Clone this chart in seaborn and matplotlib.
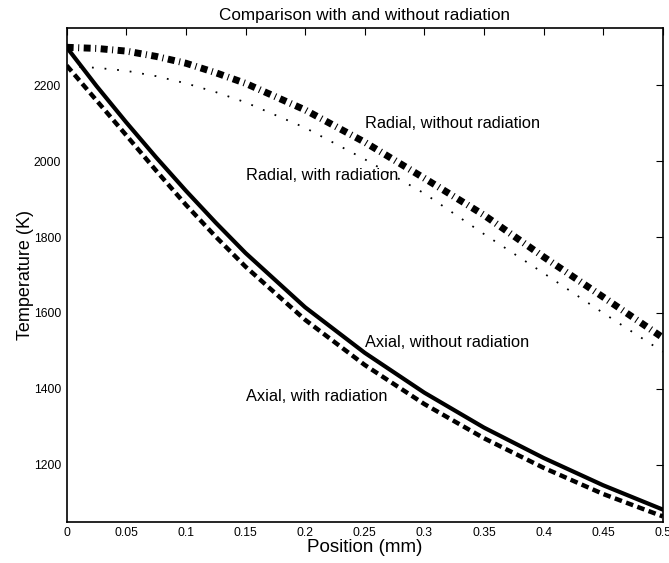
import matplotlib
matplotlib.use('Agg')
import matplotlib.pyplot as plt
import seaborn as sns
import numpy as np

position = [0.0, 0.025, 0.05, 0.075, 0.1, 0.125, 0.15, 0.2, 0.25, 0.3, 0.35, 0.4, 0.45, 0.5]

# temperatures (K)
radial_without = [2300, 2297, 2290, 2276, 2258, 2233, 2205, 2135, 2050, 1955, 1858, 1748, 1642, 1535]
radial_with = [2250, 2246, 2238, 2224, 2205, 2182, 2155, 2088, 2005, 1915, 1808, 1705, 1600, 1498]
axial_without = [2300, 2198, 2102, 2010, 1922, 1838, 1758, 1615, 1495, 1390, 1298, 1218, 1146, 1082]
axial_with = [2252, 2160, 2068, 1975, 1885, 1801, 1722, 1582, 1463, 1360, 1270, 1192, 1123, 1064]

labels = [
    ('Radial, without radiation', 0.25, 2100),
    ('Radial, with radiation', 0.15, 1962),
    ('Axial, without radiation', 0.25, 1522),
    ('Axial, with radiation', 0.15, 1380),
]


def style_axes(ax):
    ax.set_xlim(0, 0.5)
    ax.set_ylim(1050, 2350)
    ax.set_xticks(np.arange(0, 0.501, 0.05))
    ax.set_xticklabels(['0', '0.05', '0.1', '0.15', '0.2', '0.25',
                        '0.3', '0.35', '0.4', '0.45', '0.5'])
    ax.set_yticks(range(1200, 2201, 200))
    ax.tick_params(direction='in', length=5, width=0.8, labelsize=8.7,
                   top=True, right=True, pad=4, colors='black')
    for side in ['bottom', 'top', 'left', 'right']:
        ax.spines[side].set_visible(True)
        ax.spines[side].set_color('black')
        ax.spines[side].set_linewidth(1.2)
    ax.set_xlabel('Position (mm)', fontsize=13.5, labelpad=0, color='black')
    ax.set_ylabel('Temperature (K)', fontsize=13, labelpad=0, color='black')
    ax.set_title('Comparison with and without radiation', fontsize=12.3,
                 pad=6, color='black')


def main():
    sns.set_style('white')
    plt.rcParams['font.family'] = ['Liberation Sans', 'DejaVu Sans']
    plt.rcParams['text.color'] = 'black'

    fig = plt.figure(figsize=(6.69, 5.63), dpi=100)
    ax = fig.add_axes([0.0997, 0.0734, 0.8909, 0.8763])

    sns.lineplot(x=position, y=radial_without, ax=ax, color='black',
                 linewidth=5, linestyle=(0, (1.0, 0.65, 0.15, 0.65)),
                 dash_capstyle='butt')
    sns.lineplot(x=position, y=radial_with, ax=ax, color='black',
                 linewidth=1.3, linestyle=(0, (1, 6)))
    sns.lineplot(x=position, y=axial_without, ax=ax, color='black',
                 linewidth=3)
    sns.lineplot(x=position, y=axial_with, ax=ax, color='black',
                 linewidth=3.2, linestyle=(0, (1.7, 1.0)),
                 dash_capstyle='butt')

    for text, x, y in labels:
        ax.text(x, y, text, fontsize=11.8, ha='left', va='center',
                color='black')

    style_axes(ax)
    fig.savefig('out.png', dpi=100)


main()
